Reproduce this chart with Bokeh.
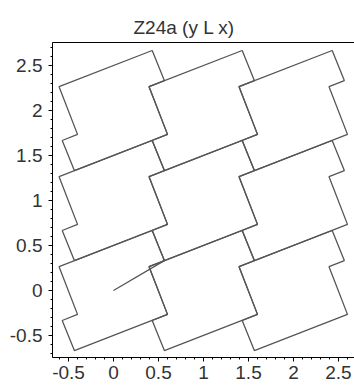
import numpy as np
from bokeh.plotting import figure
from bokeh.models import Range1d, LinearAxis, FixedTicker
from bokeh.embed import file_html
from bokeh.resources import INLINE

# ---- data ----
title_text = "Z24a (y L x)"

# base tile polygon (vertices, clockwise from top-left)
tile_x = [-0.605, -0.40, -0.57, -0.435, 0.60, 0.395, 0.565, 0.43]
tile_y = [0.265, -0.265, -0.333, -0.667, -0.265, 0.265, 0.333, 0.667]

# lattice translations of the tile
shift_x = [0, 1, 2, 0, 1, 2, 0, 1, 2]
shift_y = [0, 0, 0, 1, 1, 1, 2, 2, 2]

# segment drawn from the origin
seg_x = [0.0, 0.565]
seg_y = [0.0, 0.333]

x_ticks = [-0.5, 0, 0.5, 1, 1.5, 2, 2.5]
x_tick_labels = ["-0.5", "0", "0.5", "1", "1.5", "2", "2.5"]
y_ticks = [-0.5, 0, 0.5, 1, 1.5, 2, 2.5]
y_tick_labels = ["-0.5", "0", "0.5", "1", "1.5", "2", "2.5"]

x_lim = (-0.678, 2.678)
y_lim = (-0.744, 2.756)

# ---- figure ----
FONT = "Liberation Sans"
TXT = "#333333"
LINE = "#555555"

p = figure(width=354, height=387, output_backend="svg", toolbar_location=None,
           x_range=Range1d(*x_lim), y_range=Range1d(*y_lim),
           x_axis_type=None, y_axis_type=None,
           min_border_left=52, min_border_right=0, min_border_top=42, min_border_bottom=30)
p.outline_line_color = None
p.xgrid.visible = False
p.ygrid.visible = False
p.background_fill_color = "white"
p.border_fill_color = "white"

xs = [[vx + sx for vx in tile_x] for sx, sy in zip(shift_x, shift_y)]
ys = [[vy + sy for vy in tile_y] for sx, sy in zip(shift_x, shift_y)]
p.patches(xs, ys, fill_alpha=0, line_color=LINE, line_width=1.3)
p.line(seg_x, seg_y, line_color=LINE, line_width=1.3)

minor_x = [float(v) for v in np.round(np.arange(-0.6, 2.65, 0.1), 2)]
minor_y = [float(v) for v in np.round(np.arange(-0.7, 2.75, 0.1), 2)]

def style_axis(ax, standoff):
    ax.axis_line_color = "black"
    ax.axis_line_width = 1
    ax.major_tick_line_color = "black"
    ax.minor_tick_line_color = "black"
    ax.major_tick_out = 4
    ax.major_tick_in = 0
    ax.minor_tick_out = 2
    ax.minor_tick_in = 0
    ax.major_label_text_font = FONT
    ax.major_label_text_font_size = "19px"
    ax.major_label_text_color = TXT
    ax.major_label_standoff = standoff

xa = LinearAxis(ticker=FixedTicker(ticks=x_ticks, minor_ticks=minor_x),
                major_label_overrides={float(t): l for t, l in zip(x_ticks, x_tick_labels)})
style_axis(xa, 4)
p.add_layout(xa, "below")

ya = LinearAxis(ticker=FixedTicker(ticks=y_ticks, minor_ticks=minor_y),
                major_label_overrides={float(t): l for t, l in zip(y_ticks, y_tick_labels)})
style_axis(ya, 6)
p.add_layout(ya, "left")

top = LinearAxis(ticker=FixedTicker(ticks=[], minor_ticks=[]))
top.axis_line_color = "black"
top.major_tick_out = 0
top.minor_tick_out = 0
top.major_tick_in = 0
top.minor_tick_in = 0
top.major_label_standoff = 0
top.major_label_text_font_size = "0px"
p.add_layout(top, "above")

p.title.text = title_text
p.title.text_font = FONT
p.title.text_font_size = "19px"
p.title.text_font_style = "normal"
p.title.text_color = TXT
p.title.align = "left"
p.title.offset = 81

open("out.html", "w").write(file_html(p, INLINE))
